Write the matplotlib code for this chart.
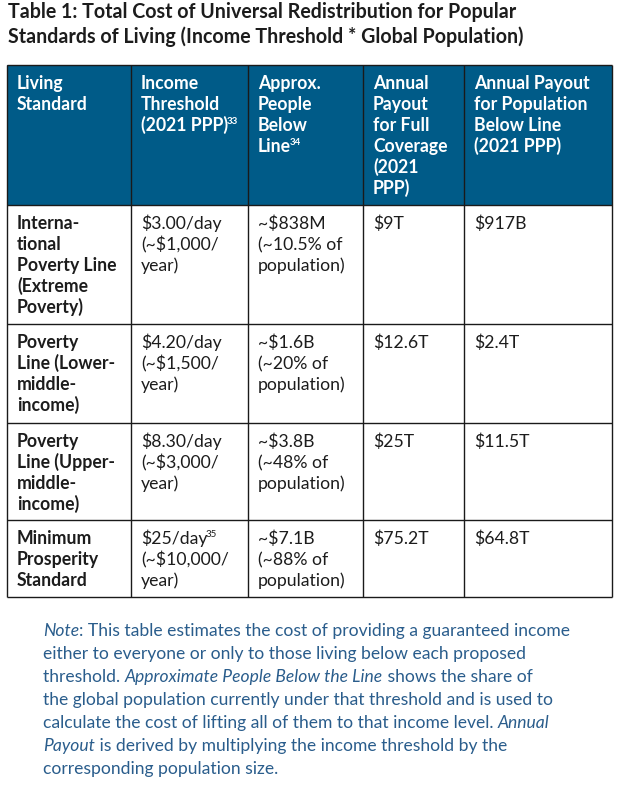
import matplotlib
matplotlib.use("Agg")
import matplotlib.pyplot as plt
from matplotlib.patches import Rectangle

plt.rcParams["font.family"] = ["Lato", "DejaVu Sans"]

# ---- table content ----
title_lines = [
    "Table 1: Total Cost of Universal Redistribution for Popular",
    "Standards of Living (Income Threshold * Global Population)",
]

# header: list of lines, plus an optional superscript (text, line index)
headers = [
    ["Living", "Standard"],
    ["Income", "Threshold", "(2021 PPP)"],
    ["Approx.", "People", "Below", "Line"],
    ["Annual", "Payout", "for Full", "Coverage", "(2021", "PPP)"],
    ["Annual Payout", "for Population", "Below Line", "(2021 PPP)"],
]
header_sup = [None, ("33", 2), ("34", 3), None, None]

living_standard = [
    ["Interna-", "tional", "Poverty Line", "(Extreme", "Poverty)"],
    ["Poverty", "Line (Lower-", "middle-", "income)"],
    ["Poverty", "Line (Upper-", "middle-", "income)"],
    ["Minimum", "Prosperity", "Standard"],
]
income_threshold = [
    ["$3.00/day", "(~$1,000/", "year)"],
    ["$4.20/day", "(~$1,500/", "year)"],
    ["$8.30/day", "(~$3,000/", "year)"],
    ["$25/day", "(~$10,000/", "year)"],
]
income_sup = [None, None, None, ("35", 0)]
people_below = [
    ["~$838M", "(~10.5% of", "population)"],
    ["~$1.6B", "(~20% of", "population)"],
    ["~$3.8B", "(~48% of", "population)"],
    ["~$7.1B", "(~88% of", "population)"],
]
payout_full = [["$9T"], ["$12.6T"], ["$25T"], ["$75.2T"]]
payout_below = [["$917B"], ["$2.4T"], ["$11.5T"], ["$64.8T"]]

note_lines = [
    [("Note", "italic"), (": This table estimates the cost of providing a guaranteed income", "normal")],
    [("either to everyone or only to those living below each proposed", "normal")],
    [("threshold. ", "normal"), ("Approximate People Below the Line", "italic"), (" shows the share of", "normal")],
    [("the global population currently under that threshold and is used to", "normal")],
    [("calculate the cost of lifting all of them to that income level. ", "normal"), ("Annual", "italic")],
    [("Payout", "italic"), (" is derived by multiplying the income threshold by the", "normal")],
    [("corresponding population size.", "normal")],
]

# ---- layout (pixels) ----
W, H = 620, 790
col_x = [7, 131, 248, 363, 464, 612]
row_y = [65, 205, 324, 423, 520, 597]
pad_x = 10
first_base = 24
line_h = 21
fs = 12.7
header_color = "#005b88"
text_color = "#1c1c1c"
note_color = "#2a5d8c"
border = "#1a1a1a"

fig = plt.figure(figsize=(W / 100, H / 100), dpi=100)
ax = fig.add_axes([0, 0, 1, 1])
ax.set_xlim(0, W)
ax.set_ylim(H, 0)
ax.axis("off")
fig.canvas.draw()
renderer = fig.canvas.get_renderer()


def text_width(t):
    bb = t.get_window_extent(renderer)
    return bb.width


def draw_runs(x, y, runs, size, color, weight="normal"):
    for txt, style in runs:
        t = ax.text(x, y, txt, fontsize=size, color=color, fontstyle=style,
                    fontweight=weight, va="baseline", ha="left")
        x += text_width(t)
    return x


def draw_cell(col, row_top, lines, color, weight, sup=None):
    x = col_x[col] + pad_x
    y = row_top + first_base
    ends = []
    for ln in lines:
        ends.append(draw_runs(x, y, [(ln, "normal")], fs, color, weight))
        y += line_h
    if sup:
        s, li = sup
        ax.text(ends[li] - 1.5, row_top + first_base + li * line_h - 7, s, fontsize=7,
                color=color, fontweight=weight, va="baseline", ha="left")


# title
for i, ln in enumerate(title_lines):
    ax.text(8, 18 + 25 * i, ln, fontsize=14.1, fontweight="bold", color=text_color,
            va="baseline", ha="left")

# header background
ax.add_patch(Rectangle((col_x[0], row_y[0]), col_x[-1] - col_x[0], row_y[1] - row_y[0],
                       facecolor=header_color, edgecolor="none"))
for c, lines in enumerate(headers):
    draw_cell(c, row_y[0], lines, "white", "bold", header_sup[c])

# body
columns = [living_standard, income_threshold, people_below, payout_full, payout_below]
for r in range(len(living_standard)):
    top = row_y[r + 1]
    for c, col in enumerate(columns):
        weight = "bold" if c == 0 else "normal"
        sup = income_sup[r] if c == 1 else None
        draw_cell(c, top, col[r], text_color, weight, sup)

# grid lines
for y in row_y:
    ax.plot([col_x[0], col_x[-1]], [y, y], color=border, lw=1.0, solid_capstyle="butt")
for x in col_x:
    ax.plot([x, x], [row_y[0], row_y[-1]], color=border, lw=1.0, solid_capstyle="butt")

# note
for i, runs in enumerate(note_lines):
    draw_runs(43, 636 + 23 * i, runs, 12.6, note_color)

fig.savefig("out.png", dpi=100)
